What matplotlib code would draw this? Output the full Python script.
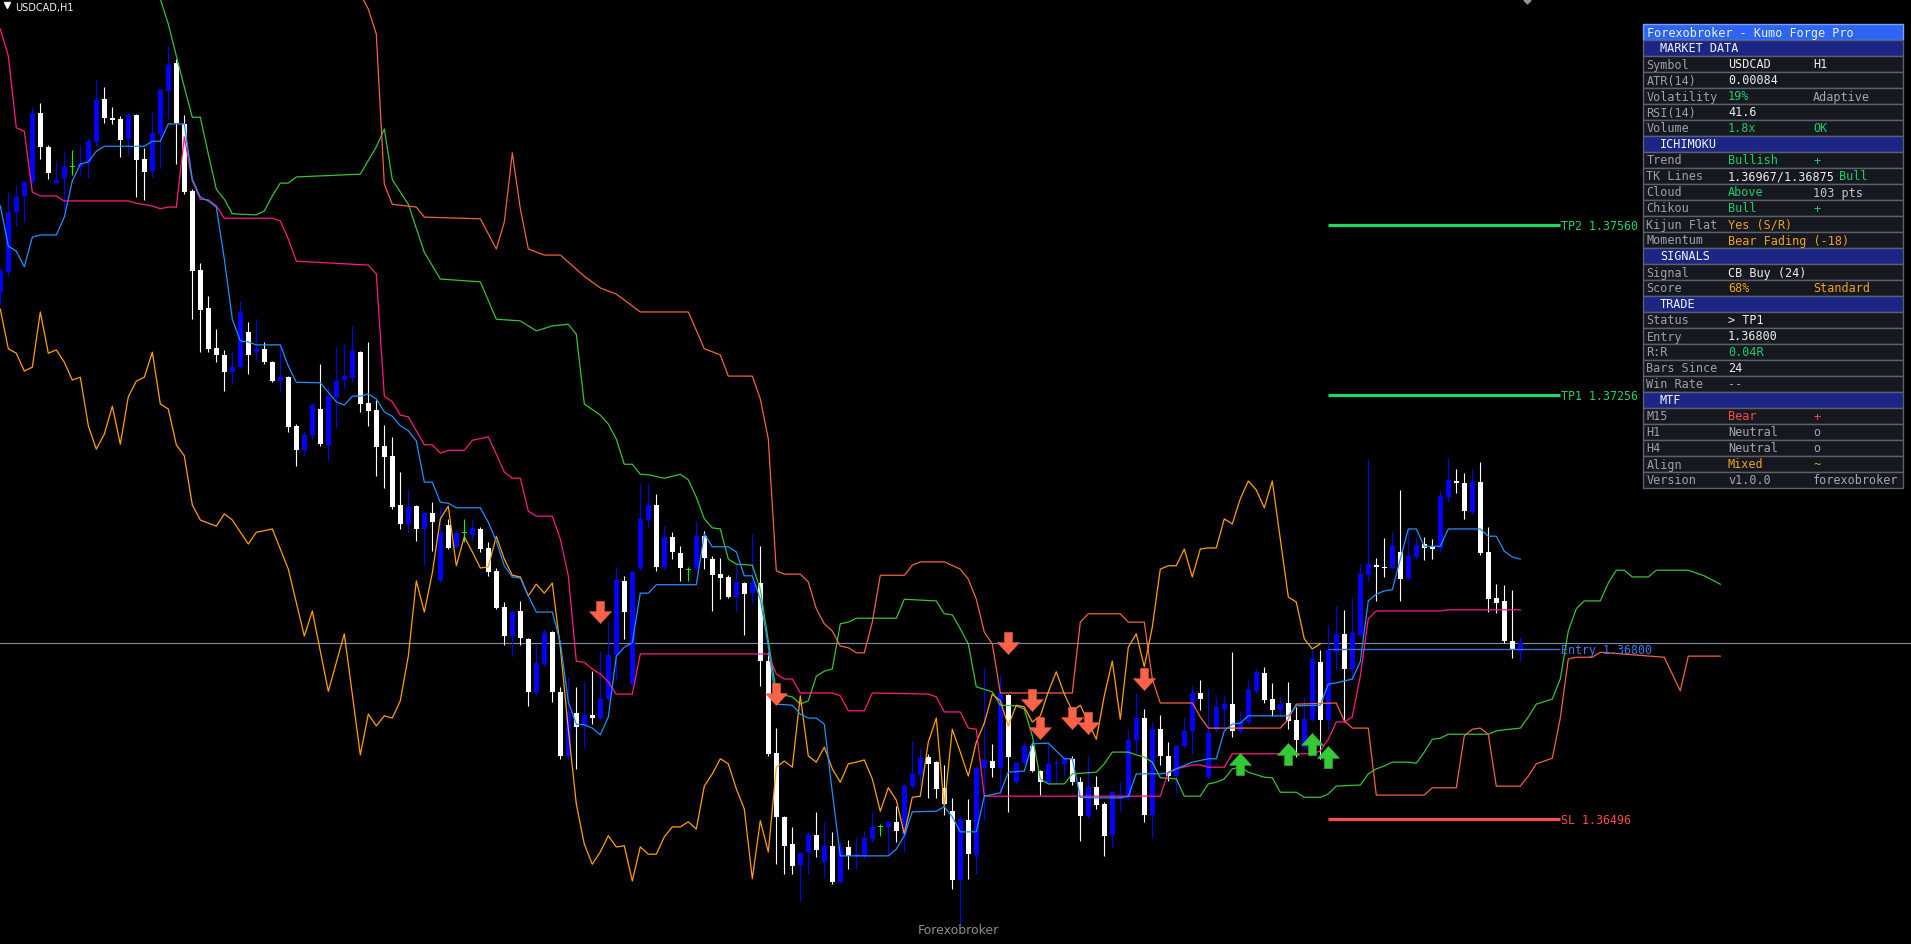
import numpy as np
import matplotlib
matplotlib.use("Agg")
import matplotlib.pyplot as plt
from matplotlib.path import Path
from matplotlib.patches import Rectangle

# ---------------- DATA (USDCAD H1) ----------------
opens = [1.37441, 1.37477, 1.37584, 1.37613, 1.37638, 1.37762, 1.37701, 1.37636, 1.37645, 1.37665,
 1.37665, 1.37674, 1.37710, 1.37787, 1.37753, 1.37751, 1.37715, 1.37758, 1.37679, 1.37658,
 1.37724, 1.37801, 1.37851, 1.37742, 1.37622, 1.37480, 1.37412, 1.37340, 1.37328, 1.37297,
 1.37306, 1.37369, 1.37333, 1.37339, 1.37315, 1.37281, 1.37288, 1.37201, 1.37157, 1.37184,
 1.37231, 1.37167, 1.37253, 1.37283, 1.37287, 1.37333, 1.37242, 1.37229, 1.37165, 1.37147,
 1.37059, 1.37025, 1.37057, 1.37016, 1.37045, 1.36924, 1.37023, 1.36984, 1.37009, 1.37005,
 1.37016, 1.36982, 1.36941, 1.36876, 1.36824, 1.36869, 1.36819, 1.36724, 1.36774, 1.36831,
 1.36724, 1.36609, 1.36686, 1.36663, 1.36682, 1.36677, 1.36711, 1.36790, 1.36923, 1.36738,
 1.36946, 1.37032, 1.37059, 1.36948, 1.37002, 1.36973, 1.36942, 1.36946, 1.37003, 1.36962,
 1.36935, 1.36930, 1.36894, 1.36919, 1.36901, 1.36919, 1.36779, 1.36614, 1.36500, 1.36451,
 1.36414, 1.36437, 1.36467, 1.36419, 1.36448, 1.36383, 1.36446, 1.36430, 1.36430, 1.36460,
 1.36482, 1.36482, 1.36491, 1.36467, 1.36555, 1.36575, 1.36607, 1.36598, 1.36552, 1.36510,
 1.36387, 1.36494, 1.36432, 1.36588, 1.36600, 1.36588, 1.36718, 1.36562, 1.36596, 1.36627,
 1.36582, 1.36561, 1.36595, 1.36595, 1.36604, 1.36562, 1.36501, 1.36553, 1.36523, 1.36467,
 1.36532, 1.36534, 1.36638, 1.36677, 1.36503, 1.36657, 1.36609, 1.36573, 1.36627, 1.36654,
 1.36722, 1.36571, 1.36656, 1.36693, 1.36702, 1.36654, 1.36670, 1.36725, 1.36758, 1.36711,
 1.36691, 1.36704, 1.36674, 1.36625, 1.36674, 1.36778, 1.36674, 1.36795, 1.36828, 1.36765,
 1.36826, 1.36933, 1.36951, 1.36948, 1.36946, 1.36975, 1.36928, 1.36966, 1.36989, 1.36984,
 1.36982, 1.37073, 1.37102, 1.37098, 1.37046, 1.37100, 1.36975, 1.36892, 1.36887, 1.36815,
 1.36797]

highs = [1.37486, 1.37620, 1.37631, 1.37640, 1.37772, 1.37780, 1.37704, 1.37676, 1.37693, 1.37695,
 1.37702, 1.37717, 1.37821, 1.37808, 1.37772, 1.37756, 1.37762, 1.37760, 1.37699, 1.37763,
 1.37805, 1.37882, 1.37858, 1.37758, 1.37625, 1.37493, 1.37434, 1.37374, 1.37337, 1.37335,
 1.37425, 1.37387, 1.37392, 1.37351, 1.37317, 1.37342, 1.37290, 1.37204, 1.37192, 1.37242,
 1.37312, 1.37270, 1.37342, 1.37348, 1.37380, 1.37335, 1.37351, 1.37247, 1.37202, 1.37181,
 1.37118, 1.37088, 1.37059, 1.37046, 1.37064, 1.37057, 1.37034, 1.37012, 1.37034, 1.37034,
 1.37020, 1.36993, 1.36946, 1.36885, 1.36871, 1.36887, 1.36821, 1.36810, 1.36837, 1.36833,
 1.36733, 1.36751, 1.36733, 1.36743, 1.36761, 1.36797, 1.36851, 1.36948, 1.36932, 1.36941,
 1.37097, 1.37097, 1.37079, 1.37021, 1.37011, 1.36985, 1.36948, 1.37030, 1.37012, 1.36967,
 1.36964, 1.36933, 1.36953, 1.36921, 1.37007, 1.36985, 1.36795, 1.36659, 1.36501, 1.36482,
 1.36437, 1.36475, 1.36509, 1.36491, 1.36473, 1.36455, 1.36458, 1.36464, 1.36475, 1.36510,
 1.36487, 1.36493, 1.36519, 1.36559, 1.36636, 1.36623, 1.36613, 1.36600, 1.36593, 1.36534,
 1.36501, 1.36532, 1.36591, 1.36767, 1.36631, 1.36754, 1.36720, 1.36598, 1.36634, 1.36634,
 1.36584, 1.36634, 1.36604, 1.36609, 1.36609, 1.36571, 1.36609, 1.36573, 1.36527, 1.36546,
 1.36562, 1.36656, 1.36722, 1.36693, 1.36670, 1.36682, 1.36634, 1.36629, 1.36679, 1.36734,
 1.36745, 1.36729, 1.36715, 1.36717, 1.36795, 1.36688, 1.36745, 1.36765, 1.36769, 1.36740,
 1.36715, 1.36742, 1.36697, 1.36713, 1.36799, 1.36799, 1.36844, 1.36878, 1.36871, 1.36892,
 1.36953, 1.37141, 1.36964, 1.37000, 1.37011, 1.37086, 1.37016, 1.37002, 1.37002, 1.36998,
 1.37084, 1.37143, 1.37123, 1.37116, 1.37123, 1.37136, 1.37020, 1.36917, 1.36915, 1.36907,
 1.36822]

lows = [1.37419, 1.37469, 1.37559, 1.37566, 1.37634, 1.37679, 1.37643, 1.37636, 1.37588, 1.37650,
 1.37649, 1.37645, 1.37702, 1.37744, 1.37742, 1.37683, 1.37686, 1.37611, 1.37606, 1.37647,
 1.37663, 1.37751, 1.37670, 1.37616, 1.37392, 1.37333, 1.37333, 1.37315, 1.37263, 1.37276,
 1.37304, 1.37294, 1.37319, 1.37312, 1.37279, 1.37261, 1.37190, 1.37129, 1.37147, 1.37177,
 1.37165, 1.37140, 1.37197, 1.37269, 1.37279, 1.37226, 1.37201, 1.37111, 1.37089, 1.37052,
 1.37016, 1.37009, 1.36994, 1.36951, 1.36976, 1.36921, 1.36980, 1.36982, 1.36993, 1.36996,
 1.36975, 1.36932, 1.36873, 1.36808, 1.36788, 1.36808, 1.36699, 1.36718, 1.36770, 1.36706,
 1.36604, 1.36604, 1.36586, 1.36625, 1.36666, 1.36674, 1.36708, 1.36747, 1.36819, 1.36736,
 1.36942, 1.37020, 1.36941, 1.36944, 1.36962, 1.36923, 1.36923, 1.36941, 1.36944, 1.36869,
 1.36890, 1.36892, 1.36869, 1.36826, 1.36881, 1.36734, 1.36609, 1.36415, 1.36397, 1.36397,
 1.36349, 1.36397, 1.36428, 1.36392, 1.36380, 1.36381, 1.36406, 1.36406, 1.36426, 1.36455,
 1.36466, 1.36430, 1.36455, 1.36437, 1.36552, 1.36555, 1.36534, 1.36534, 1.36503, 1.36371,
 1.36308, 1.36389, 1.36397, 1.36494, 1.36571, 1.36541, 1.36509, 1.36559, 1.36595, 1.36580,
 1.36539, 1.36557, 1.36561, 1.36573, 1.36557, 1.36457, 1.36498, 1.36514, 1.36430, 1.36446,
 1.36510, 1.36530, 1.36613, 1.36491, 1.36462, 1.36593, 1.36564, 1.36543, 1.36623, 1.36613,
 1.36691, 1.36568, 1.36652, 1.36657, 1.36643, 1.36650, 1.36666, 1.36722, 1.36704, 1.36681,
 1.36679, 1.36657, 1.36607, 1.36622, 1.36672, 1.36604, 1.36656, 1.36765, 1.36670, 1.36747,
 1.36822, 1.36923, 1.36887, 1.36930, 1.36944, 1.36887, 1.36924, 1.36962, 1.36960, 1.36962,
 1.36975, 1.37066, 1.37080, 1.37034, 1.37043, 1.36969, 1.36867, 1.36865, 1.36812, 1.36785,
 1.36779]

closes = [1.37478, 1.37584, 1.37611, 1.37638, 1.37760, 1.37701, 1.37654, 1.37642, 1.37665, 1.37665,
 1.37672, 1.37711, 1.37785, 1.37753, 1.37749, 1.37713, 1.37758, 1.37677, 1.37656, 1.37726,
 1.37803, 1.37848, 1.37744, 1.37620, 1.37478, 1.37408, 1.37339, 1.37328, 1.37297, 1.37306,
 1.37405, 1.37328, 1.37339, 1.37315, 1.37281, 1.37288, 1.37199, 1.37157, 1.37184, 1.37238,
 1.37168, 1.37254, 1.37281, 1.37290, 1.37335, 1.37240, 1.37227, 1.37163, 1.37145, 1.37055,
 1.37025, 1.37055, 1.37016, 1.37045, 1.37028, 1.37010, 1.36982, 1.37009, 1.37009, 1.37018,
 1.36980, 1.36939, 1.36874, 1.36824, 1.36867, 1.36821, 1.36724, 1.36776, 1.36829, 1.36724,
 1.36609, 1.36688, 1.36661, 1.36682, 1.36677, 1.36711, 1.36790, 1.36924, 1.36867, 1.36939,
 1.37034, 1.37059, 1.36948, 1.37002, 1.36975, 1.36946, 1.36942, 1.37003, 1.36964, 1.36933,
 1.36928, 1.36894, 1.36921, 1.36899, 1.36919, 1.36779, 1.36613, 1.36500, 1.36448, 1.36412,
 1.36435, 1.36467, 1.36440, 1.36448, 1.36383, 1.36446, 1.36430, 1.36433, 1.36462, 1.36482,
 1.36482, 1.36491, 1.36475, 1.36555, 1.36577, 1.36605, 1.36595, 1.36550, 1.36523, 1.36387,
 1.36496, 1.36433, 1.36588, 1.36602, 1.36588, 1.36722, 1.36607, 1.36596, 1.36627, 1.36582,
 1.36562, 1.36595, 1.36596, 1.36604, 1.36562, 1.36501, 1.36553, 1.36521, 1.36466, 1.36544,
 1.36537, 1.36638, 1.36677, 1.36503, 1.36657, 1.36609, 1.36573, 1.36627, 1.36654, 1.36722,
 1.36711, 1.36650, 1.36697, 1.36702, 1.36654, 1.36670, 1.36727, 1.36760, 1.36709, 1.36691,
 1.36702, 1.36672, 1.36638, 1.36675, 1.36783, 1.36674, 1.36799, 1.36828, 1.36765, 1.36829,
 1.36935, 1.36953, 1.36948, 1.36946, 1.36985, 1.36926, 1.36967, 1.36987, 1.36982, 1.36980,
 1.37075, 1.37104, 1.37098, 1.37048, 1.37100, 1.36973, 1.36890, 1.36883, 1.36815, 1.36799,
 1.36812]

# Ichimoku lines (bar index, price) vertices
tenkan_x = [0,1,2,3,4,5,7,8,9,10, 11,12,13,18,19,20,21,23,24,25, 26,27,28,29,30,31,32,35,36,37,
 40,42,43,44,45,46,47,48,49,50, 51,52,53,54,55,56,57,60,61,62, 63,64,65,66,67,69,70,71,72,73,
 74,75,76,77,78,79,80,81,82,87, 88,89,91,92,93,94,95,96,97,99, 100,101,102,103,104,105,111,112,113,114,
 117,118,119,120,122,123,125,126,128,129, 131,133,134,135,137,140,141,142,145,146,
 147,149,151,152,153,154,155,156,161,162, 165,166,167,169,170,171,172,173,174,175,
 176,177,178,180,181,185,186,187,188,189, 190]
tenkan_y = [1.37595,1.37523,1.37514,1.37486,1.37539,1.37543,1.37543,1.37575,1.37640,1.37670,
 1.37674,1.37693,1.37702,1.37702,1.37711,1.37711,1.37742,1.37742,1.37643,1.37611,
 1.37604,1.37593,1.37500,1.37392,1.37353,1.37351,1.37346,1.37346,1.37308,1.37279,
 1.37278,1.37244,1.37238,1.37254,1.37254,1.37258,1.37249,1.37226,1.37218,1.37201,
 1.37192,1.37174,1.37100,1.37100,1.37064,1.37062,1.37054,1.37054,1.37028,1.36994,
 1.36950,1.36930,1.36928,1.36896,1.36867,1.36867,1.36813,1.36706,1.36666,1.36665,
 1.36659,1.36647,1.36679,1.36788,1.36804,1.36812,1.36901,1.36901,1.36916,1.36916,
 1.37007,1.36984,1.36984,1.36975,1.36932,1.36932,1.36890,1.36806,1.36702,1.36700,
 1.36684,1.36677,1.36677,1.36666,1.36544,1.36430,1.36430,1.36442,1.36466,1.36509,
 1.36510,1.36518,1.36500,1.36473,1.36473,1.36537,1.36543,1.36580,1.36582,1.36631,
 1.36632,1.36604,1.36604,1.36535,1.36534,1.36534,1.36537,1.36577,1.36577,1.36579,
 1.36586,1.36598,1.36604,1.36604,1.36654,1.36666,1.36668,1.36681,1.36681,1.36699,
 1.36700,1.36738,1.36740,1.36747,1.36778,1.36887,1.36899,1.36905,1.36907,1.36962,
 1.37016,1.37016,1.36985,1.36985,1.37016,1.37016,1.37003,1.37003,1.36976,1.36966,
 1.36962]

kijun_x = [0,1,2,3,4,5,7,8,16,17, 19,20,21,22,23,24,25,26,27,28, 34,35,36,37,46,47,48,49,50,51,
 52,53,54,55,56,58,59,61,62,63, 64,65,66,67,69,70,71,72,73,74, 75,76,77,79,80,96,97,98,99,100,
 104,105,106,108,109,116,117,118,120,121, 122,123,145,146,147,149,150,151,153,154,
 164,165,166,167,168,169,170,171,172,180, 181,190]
kijun_y = [1.37912,1.37864,1.37735,1.37729,1.37620,1.37613,1.37613,1.37604,1.37604,1.37600,
 1.37595,1.37590,1.37593,1.37593,1.37719,1.37640,1.37607,1.37606,1.37595,1.37573,
 1.37573,1.37568,1.37536,1.37496,1.37489,1.37473,1.37254,1.37244,1.37220,1.37217,
 1.37192,1.37167,1.37167,1.37152,1.37157,1.37157,1.37175,1.37181,1.37150,1.37118,
 1.37107,1.37107,1.37048,1.37039,1.37039,1.36998,1.36932,1.36779,1.36777,1.36765,
 1.36756,1.36742,1.36720,1.36720,1.36792,1.36792,1.36756,1.36747,1.36747,1.36722,
 1.36722,1.36717,1.36690,1.36690,1.36722,1.36720,1.36715,1.36688,1.36688,1.36659,
 1.36657,1.36537,1.36537,1.36580,1.36586,1.36593,1.36593,1.36589,1.36589,1.36613,
 1.36613,1.36618,1.36639,1.36670,1.36670,1.36679,1.36752,1.36855,1.36869,1.36869,
 1.36871,1.36871]

span_a_x = [20,21,22,23,24,25,26,27,28,29, 32,33,34,35,36,37,45,47,48,49, 51,53,55,60,62,65,67,69,71,72,
 73,75,76,77,78,79,80,81,83,85, 86,87,88,89,90,91,92,94,95,96, 97,98,99,100,101,102,103,104,105,106,
 107,112,113,117,118,119,120,121,122,124, 125,127,128,129,130,131,133,134,137,138,
 139,141,142,143,144,145,147,148,150,151, 152,153,154,155,156,158,159,160,162,163,
 165,166,167,170,171,172,173,174,176,177, 178,179,180,181,186,187,188,190,191,192,
 194,195,196,197,198,200,201,202,203,204, 206,207,211,213,215]
span_a_y = [1.37966,1.37921,1.37864,1.37808,1.37754,1.37754,1.37688,1.37625,1.37607,1.37581,
 1.37579,1.37586,1.37613,1.37636,1.37636,1.37647,1.37652,1.37701,1.37733,1.37642,
 1.37598,1.37512,1.37464,1.37459,1.37392,1.37389,1.37371,1.37380,1.37383,1.37365,
 1.37240,1.37220,1.37204,1.37177,1.37132,1.37132,1.37114,1.37113,1.37107,1.37114,
 1.37104,1.37073,1.37034,1.37018,1.37016,1.36962,1.36953,1.36951,1.36908,1.36815,
 1.36724,1.36718,1.36715,1.36702,1.36708,1.36752,1.36761,1.36765,1.36846,1.36849,
 1.36856,1.36856,1.36890,1.36887,1.36864,1.36862,1.36837,1.36810,1.36733,1.36724,
 1.36700,1.36699,1.36693,1.36645,1.36568,1.36559,1.36559,1.36577,1.36580,1.36595,
 1.36616,1.36616,1.36611,1.36607,1.36598,1.36570,1.36568,1.36537,1.36537,1.36559,
 1.36562,1.36568,1.36586,1.36589,1.36580,1.36571,1.36570,1.36544,1.36544,1.36535,
 1.36535,1.36541,1.36555,1.36557,1.36577,1.36586,1.36591,1.36598,1.36598,1.36596,
 1.36616,1.36639,1.36641,1.36648,1.36648,1.36654,1.36656,1.36659,1.36679,1.36702,
 1.36711,1.36747,1.36833,1.36873,1.36887,1.36887,1.36919,1.36942,1.36942,1.36930,
 1.36930,1.36942,1.36942,1.36932,1.36917]

span_b_x = [45,46,47,48,49,52,53,60,62,63, 64,65,66,68,70,73,75,77,80,86, 88,90,91,94,95,96,97,98,100,101,
 102,103,104,105,106,107,108,109,110,113, 114,115,118,120,121,122,123,124,125,134,
 135,136,140,141,143,144,145,149,150,151, 160,161,162,167,168,169,171,172,178,179,
 182,183,184,185,186,187,190,191,192,194, 195,196,197,199,200,208,209,210,211,215]
span_b_y = [1.37975,1.37948,1.37903,1.37634,1.37598,1.37593,1.37575,1.37572,1.37518,1.37566,
 1.37690,1.37590,1.37518,1.37507,1.37507,1.37469,1.37448,1.37437,1.37405,1.37405,
 1.37339,1.37328,1.37290,1.37290,1.37249,1.37177,1.36941,1.36935,1.36935,1.36921,
 1.36873,1.36846,1.36833,1.36806,1.36803,1.36794,1.36794,1.36849,1.36933,1.36933,
 1.36951,1.36957,1.36957,1.36944,1.36926,1.36890,1.36831,1.36810,1.36722,1.36722,
 1.36849,1.36864,1.36864,1.36849,1.36849,1.36747,1.36704,1.36704,1.36679,1.36659,
 1.36659,1.36675,1.36702,1.36704,1.36672,1.36659,1.36659,1.36539,1.36539,1.36552,
 1.36552,1.36645,1.36657,1.36659,1.36648,1.36555,1.36555,1.36573,1.36595,1.36605,
 1.36677,1.36783,1.36786,1.36786,1.36795,1.36786,1.36756,1.36726,1.36788,1.36788]

chikou_x = [0,1,2,3,4,5,6,7,8,9, 10,11,12,13,14,15,16,17,18,19, 20,21,22,23,24,25,27,28,29,31,
 32,34,36,38,39,41,43,45,46,47, 48,49,50,51,52,53,54,55,56,57] + list(range(58, 166))
chikou_y = [1.37410,1.37339,1.37331,1.37299,1.37306,1.37405,1.37331,1.37337,1.37315,1.37283,
 1.37288,1.37201,1.37159,1.37186,1.37236,1.37168,1.37253,1.37281,1.37288,1.37333,
 1.37240,1.37231,1.37167,1.37147,1.37059,1.37032,1.37021,1.37043,1.37032,1.36989,
 1.37010,1.37016,1.36944,1.36824,1.36869,1.36725,1.36828,1.36611,1.36684,1.36663,
 1.36681,1.36677,1.36708,1.36788,1.36923,1.36867,1.36937,1.37034,1.37057,1.36950,
 1.37002,1.36975,1.36946,1.36948,1.37003,1.36962,1.36933,1.36930,1.36896,1.36917,
 1.36901,1.36919,1.36804,1.36657,1.36523,1.36451,1.36415,1.36437,1.36466,1.36446,
 1.36448,1.36385,1.36446,1.36433,1.36433,1.36464,1.36482,1.36482,1.36491,1.36478,
 1.36555,1.36577,1.36604,1.36595,1.36550,1.36514,1.36389,1.36493,1.36437,1.36589,
 1.36600,1.36589,1.36717,1.36609,1.36598,1.36625,1.36586,1.36562,1.36595,1.36598,
 1.36602,1.36568,1.36510,1.36552,1.36530,1.36469,1.36535,1.36537,1.36634,1.36677,
 1.36518,1.36657,1.36616,1.36573,1.36634,1.36668,1.36720,1.36708,1.36663,1.36700,
 1.36697,1.36670,1.36681,1.36724,1.36760,1.36720,1.36690,1.36700,1.36670,1.36639,
 1.36717,1.36779,1.36675,1.36804,1.36828,1.36769,1.36840,1.36944,1.36950,1.36950,
 1.36980,1.36930,1.36980,1.36982,1.36982,1.37034,1.37025,1.37070,1.37102,1.37086,
 1.37054,1.37102,1.36998,1.36894,1.36885,1.36819,1.36801,1.36810]

# Signals
sell_bars = [75, 97, 126, 129, 130, 134, 136, 143]
sell_prices = [1.36867, 1.36720, 1.36812, 1.36709, 1.36659, 1.36677, 1.36668, 1.36747]
buy_bars = [155, 161, 164, 166]
buy_prices = [1.36595, 1.36613, 1.36631, 1.36607]

# Trade levels
tp2_price = 1.37560
tp1_price = 1.37256
entry_price = 1.36800
sl_price = 1.36496
bid_price = 1.36812
level_start, level_end = 166, 195

# Info panel rows
panel_title = "Forexobroker - Kumo Forge Pro"
WH, GN, OR, RD, GY, LG = "#EDEDED", "#19CF68", "#F2A21E", "#FF4747", "#A4A8AE", "#C4C6CA"
panel_rows = [
    ("section", "MARKET DATA"),
    ("data", "Symbol", "USDCAD", WH, "H1", WH),
    ("data", "ATR(14)", "0.00084", WH, "", WH),
    ("data", "Volatility", "19%", GN, "Adaptive", GY),
    ("data", "RSI(14)", "41.6", WH, "", WH),
    ("data", "Volume", "1.8x", GN, "OK", GN),
    ("section", "ICHIMOKU"),
    ("data", "Trend", "Bullish", GN, "+", GN),
    ("data", "TK Lines", "1.36967/1.36875", WH, "Bull", GN),
    ("data", "Cloud", "Above", GN, "103 pts", LG),
    ("data", "Chikou", "Bull", GN, "+", GN),
    ("data", "Kijun Flat", "Yes (S/R)", OR, "", WH),
    ("data", "Momentum", "Bear Fading (-18)", OR, "", WH),
    ("section", "SIGNALS"),
    ("data", "Signal", "CB Buy (24)", WH, "", WH),
    ("data", "Score", "68%", OR, "Standard", OR),
    ("section", "TRADE"),
    ("data", "Status", "> TP1", WH, "", WH),
    ("data", "Entry", "1.36800", WH, "", WH),
    ("data", "R:R", "0.04R", GN, "", WH),
    ("data", "Bars Since", "24", WH, "", WH),
    ("data", "Win Rate", "--", GY, "", WH),
    ("section", "MTF"),
    ("data", "M15", "Bear", RD, "+", RD),
    ("data", "H1", "Neutral", GY, "o", GY),
    ("data", "H4", "Neutral", GY, "o", GY),
    ("data", "Align", "Mixed", OR, "~", OR),
    ("data", "Version", "v1.0.0", GY, "forexobroker", GY),
]

# ---------------- FIGURE ----------------
plt.rcParams["font.family"] = ["DejaVu Sans"]
W, H = 1911, 945
fig = plt.figure(figsize=(W / 100, H / 100), dpi=100)
fig.patch.set_facecolor("black")
ax = fig.add_axes([0, 0, 1, 1])
ax.set_facecolor("black")
ax.set_xlim(-0.04, 238.84)
ax.set_ylim(1.36272, 1.37966)
ax.axis("off")

o = np.array(opens); h = np.array(highs); l = np.array(lows); c = np.array(closes)
xs = np.arange(len(o))
cols = np.where(c > o, "#0000FF", np.where(c < o, "#FFFFFF", "#00FF00"))

# bid line
ax.axhline(bid_price, color="#7E8C9C", lw=0.8, zorder=1)

# candles
ax.vlines(xs, l, h, colors=cols, lw=0.8, zorder=2)
body_lo = np.minimum(o, c)
body_h = np.maximum(np.abs(c - o), 0.000020)
ax.bar(xs, body_h, bottom=body_lo, width=0.68, color=cols, linewidth=0, zorder=3)

# ichimoku lines
ax.plot(span_a_x, span_a_y, color="#37C337", lw=0.9, zorder=4)
ax.plot(span_b_x, span_b_y, color="#F4623F", lw=0.9, zorder=4)
ax.plot(chikou_x, chikou_y, color="#FFA000", lw=0.9, zorder=4)
ax.plot(kijun_x, kijun_y, color="#FF1A85", lw=0.9, zorder=4)
ax.plot(tenkan_x, tenkan_y, color="#1E90FF", lw=0.9, zorder=4)

# trade levels
mono = "DejaVu Sans Mono"
ax.hlines([tp2_price, tp1_price], level_start, level_end, color="#1FD66A", lw=2.3, zorder=5)
ax.hlines([sl_price], level_start, level_end, color="#FF4B4B", lw=2.3, zorder=5)
ax.hlines([entry_price], level_start, level_end, color="#2F6FE8", lw=1.0, zorder=5)
ax.text(level_end + 0.1, tp2_price, f"TP2 {tp2_price:.5f}", color="#1FD66A", fontsize=8.4,
        family=mono, va="center", ha="left", zorder=6)
ax.text(level_end + 0.1, tp1_price, f"TP1 {tp1_price:.5f}", color="#1FD66A", fontsize=8.4,
        family=mono, va="center", ha="left", zorder=6)
ax.text(level_end + 0.1, entry_price, f"Entry {entry_price:.5f}", color="#3D7BF0", fontsize=8.4,
        family=mono, va="center", ha="left", zorder=6)
ax.text(level_end + 0.1, sl_price, f"SL {sl_price:.5f}", color="#FF4B4B", fontsize=8.4,
        family=mono, va="center", ha="left", zorder=6)

# signal arrows
down_v = [(-0.18, 0.5), (0.18, 0.5), (0.18, 0.04), (0.5, 0.04), (0.0, -0.5),
          (-0.5, 0.04), (-0.18, 0.04), (-0.18, 0.5)]
codes = [Path.MOVETO] + [Path.LINETO] * 6 + [Path.CLOSEPOLY]
down_path = Path(down_v, codes)
up_path = Path([(x, -y) for x, y in down_v], codes)
ax.plot(sell_bars, sell_prices, ls="none", marker=down_path, ms=16, color="#FF6347",
        mec="#FF6347", mew=0.3, zorder=7)
ax.plot(buy_bars, buy_prices, ls="none", marker=up_path, ms=16, color="#35C935",
        mec="#35C935", mew=0.3, zorder=7)

# ---------------- overlay (pixel space) ----------------
pax = fig.add_axes([0, 0, 1, 1], facecolor="none")
pax.set_xlim(0, W)
pax.set_ylim(H, 0)
pax.axis("off")

pax.plot([7], [6], marker="v", ms=4.5, color="white", ls="none")
pax.text(15, 7.5, "USDCAD,H1", fontsize=7, color="#F0F0F0", va="center", ha="left")
pax.text(918, 931, "Forexobroker", fontsize=9, color="#8C8C8C", va="center", ha="left")
pax.plot([1527], [1], marker="D", ms=3.5, color="#8C95A2", ls="none")

px0, pw, top, rh = 1643, 260, 24.5, 16.0
fs = 8.5
# title
pax.add_patch(Rectangle((px0, top), pw, rh, facecolor="#2E64F2", edgecolor="#7C9BFF", lw=1.0))
pax.text(px0 + 4, top + rh / 2 + 0.5, panel_title, fontsize=fs, family=mono, color="#EAF0FF",
         va="center", ha="left")
for i, row in enumerate(panel_rows):
    y0 = top + rh * (i + 1)
    if row[0] == "section":
        pax.add_patch(Rectangle((px0, y0), pw, rh, facecolor="#1B2584", edgecolor="#5A5F73", lw=1.0))
        pax.text(px0 + 17, y0 + rh / 2 + 0.5, row[1], fontsize=fs, family=mono, color="#F2F2F2",
                 va="center", ha="left")
    else:
        _, lab, val, vcol, extra, ecol = row
        pax.add_patch(Rectangle((px0, y0), pw, rh, facecolor="#15181F", edgecolor="#5C6068", lw=1.0))
        pax.text(px0 + 3.5, y0 + rh / 2 + 0.5, lab, fontsize=fs, family=mono, color="#9CA1A9",
                 va="center", ha="left")
        pax.text(px0 + 85, y0 + rh / 2 + 0.5, val, fontsize=fs, family=mono, color=vcol,
                 va="center", ha="left")
        if extra:
            # third column; pushed right if the value text is long, to keep texts apart
            ex = max(px0 + 170, px0 + 85 + len(val) * 7.1 + 4)
            pax.text(ex, y0 + rh / 2 + 0.5, extra, fontsize=fs, family=mono, color=ecol,
                     va="center", ha="left")

fig.savefig("out.png", dpi=100, facecolor="black")
